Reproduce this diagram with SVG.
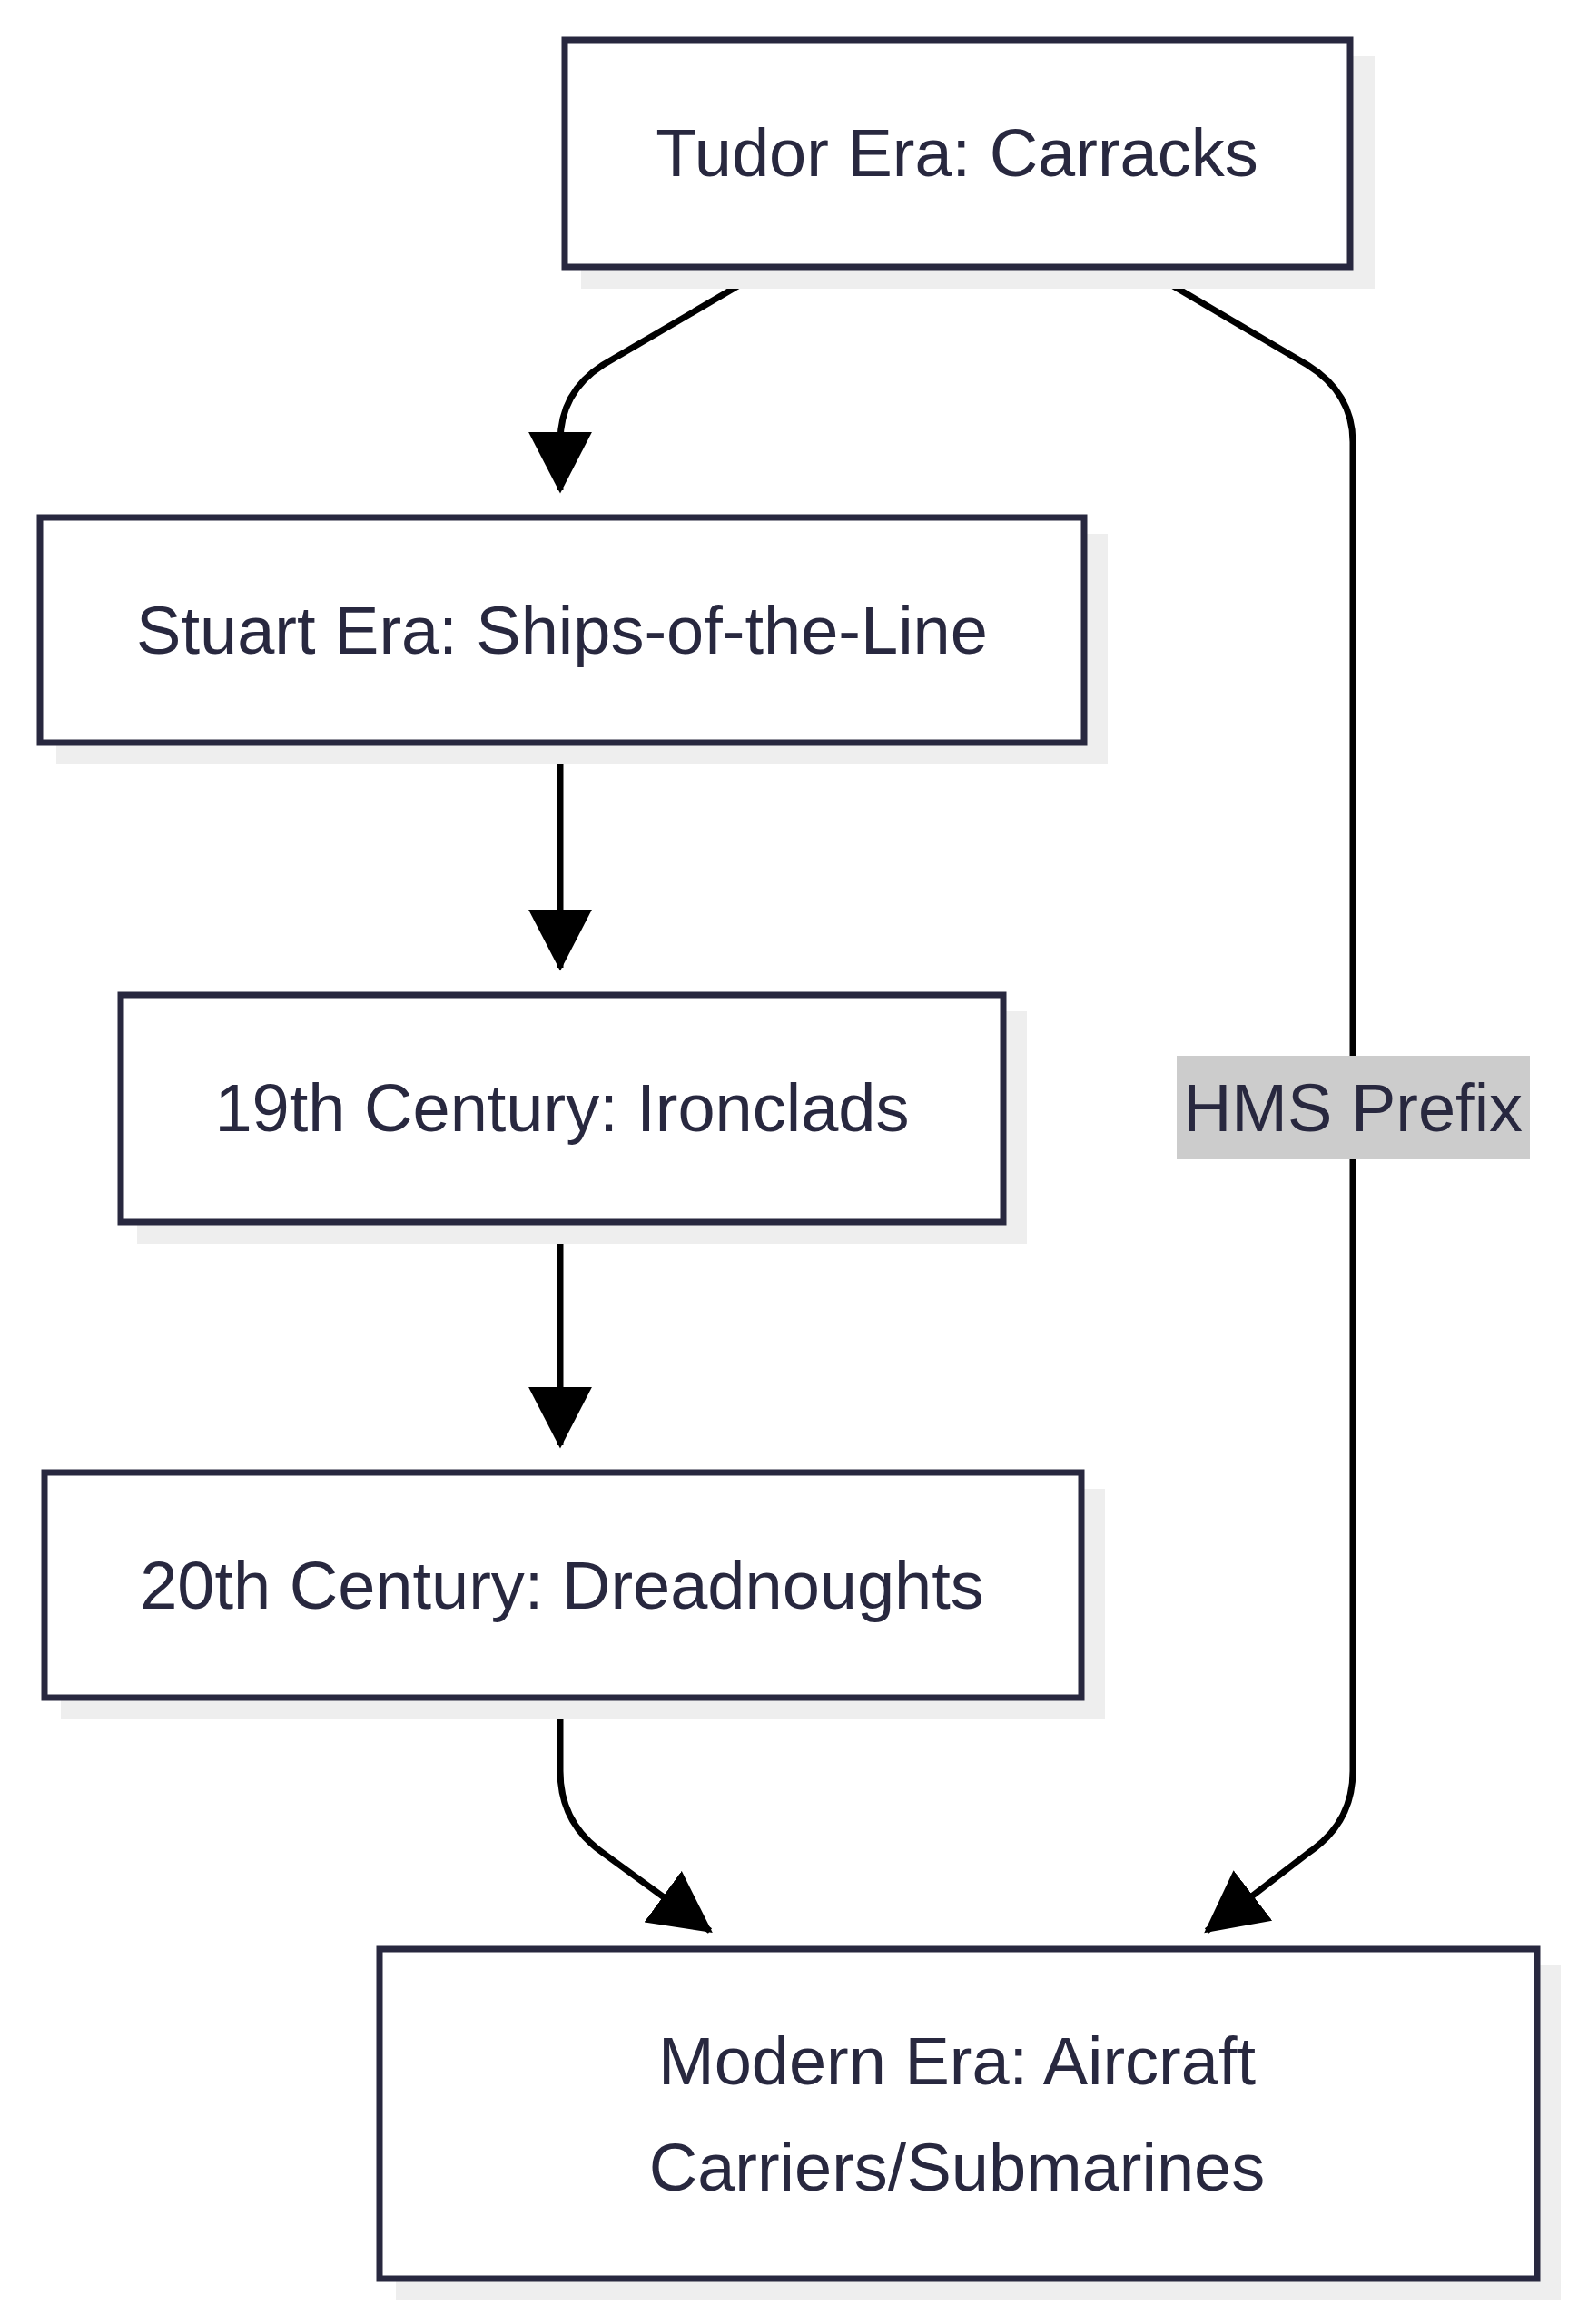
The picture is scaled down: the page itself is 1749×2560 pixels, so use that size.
<svg xmlns="http://www.w3.org/2000/svg" width="1749" height="2560" viewBox="0 0 1749 2560">
<style>
.box{fill:#fff;stroke:#28283f;stroke-width:7}
.sh{fill:#eeeeee}
.t{font-family:"Liberation Sans",Arial,sans-serif;font-size:74px;fill:#28283f;text-anchor:middle;dominant-baseline:central}
.e{fill:none;stroke:#000;stroke-width:7}
</style>
<defs>
<marker id="a" markerUnits="userSpaceOnUse" markerWidth="70" markerHeight="70" viewBox="0 0 60 60" refX="55" refY="30" orient="auto">
<path d="M0,0 L58,30 L0,60 Z" fill="#000"/>
</marker>
</defs>
<rect width="1749" height="2560" fill="#fff"/>
<g id="connectors">
<path class="e" d="M845,296 L664,402 Q617,432 617,487 L617,540" marker-end="url(#a)"/>
<path class="e" d="M617,818 L617,1066" marker-end="url(#a)"/>
<path class="e" d="M617,1346 L617,1592" marker-end="url(#a)"/>
<path class="e" d="M617,1873 L617,1951 Q617,2008 664,2041 L782,2127" marker-end="url(#a)"/>
<path class="e" d="M1260,296 L1440,402 Q1490,433 1490,487 L1490,1951 Q1490,2008 1441,2041 L1329,2127" marker-end="url(#a)"/>
<g id="label-hms">
<rect x="1296" y="1163" width="389" height="114" fill="#cccccc"/>
<text class="t" x="1490" y="1220">HMS Prefix</text>
</g>
</g>
<g id="tudor">
<rect class="sh" x="640" y="62" width="874" height="256"/>
<rect class="box" x="622" y="44" width="865" height="250"/>
<text class="t" x="1054" y="168">Tudor Era: Carracks</text>
</g>
<g id="stuart">
<rect class="sh" x="62" y="588" width="1158" height="254"/>
<rect class="box" x="44" y="570" width="1150" height="248"/>
<text class="t" x="619" y="694">Stuart Era: Ships-of-the-Line</text>
</g>
<g id="c19">
<rect class="sh" x="151" y="1114" width="980" height="256"/>
<rect class="box" x="133" y="1096" width="972" height="250"/>
<text class="t" x="619" y="1220">19th Century: Ironclads</text>
</g>
<g id="c20">
<rect class="sh" x="67" y="1640" width="1150" height="254"/>
<rect class="box" x="49" y="1622" width="1142" height="248"/>
<text class="t" x="619" y="1746">20th Century: Dreadnoughts</text>
</g>
<g id="modern">
<rect class="sh" x="436" y="2165" width="1283" height="369"/>
<rect class="box" x="418" y="2147" width="1275" height="363"/>
<text class="t" x="1054" y="2270">Modern Era: Aircraft</text>
<text class="t" x="1054" y="2387">Carriers/Submarines</text>
</g>
</svg>
